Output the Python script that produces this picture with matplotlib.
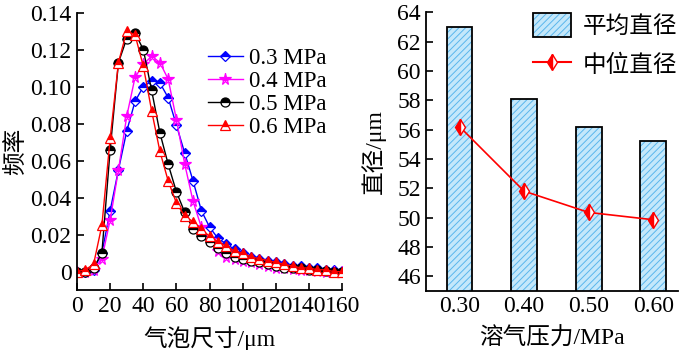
import matplotlib
matplotlib.use("Agg")
import matplotlib.pyplot as plt
import numpy as np
from matplotlib.patches import Patch
from matplotlib.lines import Line2D
from matplotlib.legend_handler import HandlerTuple

plt.rcParams["font.family"] = ["Liberation Serif", "Noto Sans CJK SC"]
plt.rcParams["font.size"] = 17
plt.rcParams["hatch.linewidth"] = 0.7
plt.rcParams["axes.linewidth"] = 1.3

# 左图：气泡尺寸分布
size_um = np.arange(0, 161, 5)
freq_03 = [0, 0, 0.001, 0.010, 0.033, 0.055, 0.076, 0.092, 0.100, 0.103, 0.102,
           0.094, 0.079, 0.064, 0.049, 0.033, 0.024, 0.018, 0.015, 0.012, 0.010,
           0.008, 0.007, 0.006, 0.005, 0.004, 0.003, 0.003, 0.002, 0.002, 0.001,
           0.001, 0.0005]
freq_04 = [0, 0, 0.001, 0.007, 0.028, 0.055, 0.084, 0.105, 0.112, 0.1165, 0.113,
           0.104, 0.082, 0.058, 0.038, 0.024, 0.017, 0.011, 0.008, 0.007, 0.006,
           0.005, 0.004, 0.003, 0.002, 0.002, 0.0015, 0.001, 0.001, 0.0005, 0.0,
           0.0, 0.0]
freq_05 = [0, 0, 0.002, 0.010, 0.066, 0.113, 0.126, 0.129, 0.120, 0.098, 0.075,
           0.058, 0.043, 0.032, 0.023, 0.019, 0.016, 0.013, 0.010, 0.008, 0.007,
           0.006, 0.005, 0.004, 0.003, 0.002, 0.002, 0.002, 0.001, 0.001, 0.0005,
           0.0, 0.0]
freq_06 = [0, 0.001, 0.004, 0.025, 0.072, 0.113, 0.130, 0.128, 0.111, 0.087, 0.065,
           0.049, 0.037, 0.030, 0.027, 0.023, 0.019, 0.016, 0.014, 0.011, 0.010,
           0.008, 0.007, 0.006, 0.005, 0.004, 0.003, 0.002, 0.002, 0.001, 0.001,
           0.0, 0.0]
series_labels = ["0.3 MPa", "0.4 MPa", "0.5 MPa", "0.6 MPa"]
series_colors = ["#0000ff", "#ff00ff", "#000000", "#ff0000"]
series_markers = ["D", "*", "o", "^"]

# 右图：平均直径 / 中位直径
pressure_labels = ["0.30", "0.40", "0.50", "0.60"]
mean_diam = [63.0, 58.1, 56.2, 55.2]
median_diam = [56.2, 51.8, 50.35, 49.85]

bar_face = "#c4e8fb"
bar_hatch = "#5ab6ec"

fig = plt.figure(figsize=(7, 3.5), dpi=100)
ax1 = fig.add_axes([0.110, 0.171, 0.379, 0.793])
ax2 = fig.add_axes([0.609, 0.169, 0.360, 0.796])

msizes = [5.5, 8.5, 6.5, 6.5]
for ys, lab, c, m, ms in zip([freq_03, freq_04, freq_05, freq_06], series_labels,
                             series_colors, series_markers, msizes):
    ax1.plot(size_um, ys, color=c, lw=1.0, marker=m, ms=ms, fillstyle="top",
             markerfacecoloralt="white", markeredgecolor=c, markeredgewidth=0.9,
             label=lab)

ax1.set_xlim(0, 160)
ax1.set_ylim(-0.01, 0.14)
ax1.set_xticks(np.arange(0, 161, 20))
ax1.set_yticks(np.arange(0, 0.141, 0.02))
ax1.set_yticklabels(["0"] + [f"{v:.2f}" for v in np.arange(0.02, 0.141, 0.02)])
ax1.set_xlabel("气泡尺寸/μm", fontsize=17, labelpad=7)
ax1.set_ylabel("频率", fontsize=17, labelpad=2)
ax1.spines["top"].set_visible(False)
ax1.spines["right"].set_visible(False)
ax1.tick_params(direction="in", length=5, width=1.2, pad=4)
ax1.legend(loc="upper left", bbox_to_anchor=(0.46, 0.905), frameon=False,
           handlelength=1.5, handletextpad=0.3, labelspacing=0.08,
           borderaxespad=0, fontsize=16.5)

x = np.arange(len(pressure_labels))
ax2.bar(x, mean_diam, width=0.4, color=bar_face, edgecolor=bar_hatch,
        hatch="/////", linewidth=0, zorder=2)
ax2.bar(x, mean_diam, width=0.4, fill=False, edgecolor="black", linewidth=1.3,
        zorder=3)
ax2.plot(x, median_diam, color="#ff0000", lw=1.2, marker="d", ms=8,
         fillstyle="left", markerfacecoloralt="white", markeredgecolor="#ff0000",
         zorder=4)
ax2.set_xlim(-0.515, 3.39)
ax2.set_ylim(45, 64)
ax2.set_xticks(x)
ax2.set_xticklabels(pressure_labels)
ax2.set_yticks(np.arange(46, 65, 2))
ax2.set_xlabel("溶气压力/MPa", fontsize=17, labelpad=7)
ax2.set_ylabel("直径/μm", fontsize=17, labelpad=8)
ax2.spines["top"].set_visible(False)
ax2.spines["right"].set_visible(False)
ax2.tick_params(direction="in", length=5, width=1.2, pad=4)

bar_handle = (Patch(facecolor=bar_face, edgecolor=bar_hatch, hatch="/////", lw=0),
              Patch(fill=False, edgecolor="black", lw=1.3))
line_handle = Line2D([], [], color="#ff0000", lw=1.5, marker="d", ms=8,
                     fillstyle="left", markerfacecoloralt="white")
ax2.legend([bar_handle, line_handle], ["平均直径", "中位直径"], loc="upper right",
           bbox_to_anchor=(1.08, 1.075), frameon=False, handlelength=1.6,
           handleheight=1.2, handletextpad=0.5, labelspacing=0.6,
           fontsize=17, handler_map={tuple: HandlerTuple(ndivide=1, pad=0)})

fig.savefig("out.png", dpi=100)
